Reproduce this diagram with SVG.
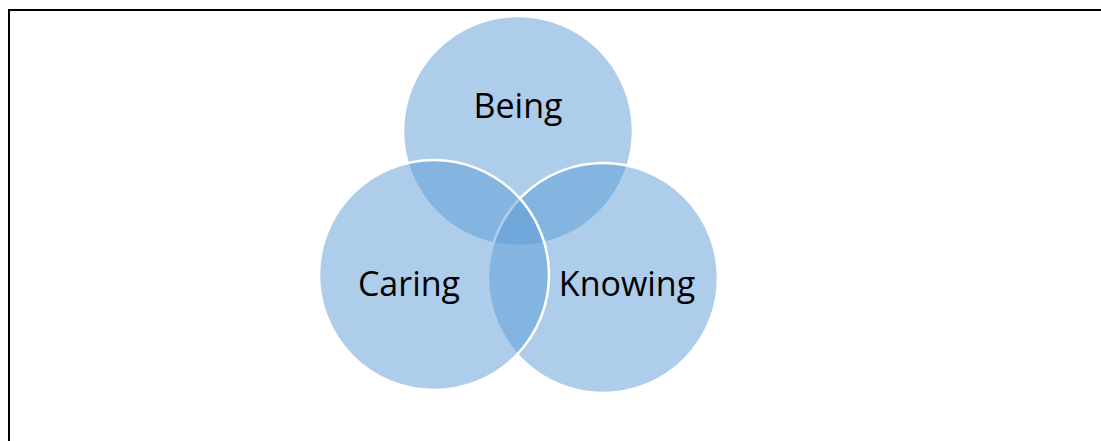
<svg xmlns="http://www.w3.org/2000/svg" width="1101" height="441" viewBox="0 0 1101 441">
<style>
.c{fill:#5B9BD5;fill-opacity:0.5;stroke:#FFFFFF;stroke-width:2.5}
.t{font-family:"Open Sans","Liberation Sans",sans-serif;font-size:34px;fill:#000;text-anchor:middle}
</style>
<rect x="0" y="0" width="1101" height="441" fill="#FFFFFF"/>
<path d="M9,441 V10 H1101" fill="none" stroke="#000" stroke-width="2"/>
<g id="being"><circle class="c" cx="518" cy="131" r="115"/></g>
<g id="knowing"><circle class="c" cx="603" cy="278" r="115"/></g>
<g id="caring"><circle class="c" cx="434" cy="275" r="115"/></g>
<g id="connectors"></g>
<g id="labels">
<text class="t" x="518" y="118">Being</text>
<text class="t" x="409" y="296">Caring</text>
<text class="t" x="627" y="296">Knowing</text>
</g>
</svg>
